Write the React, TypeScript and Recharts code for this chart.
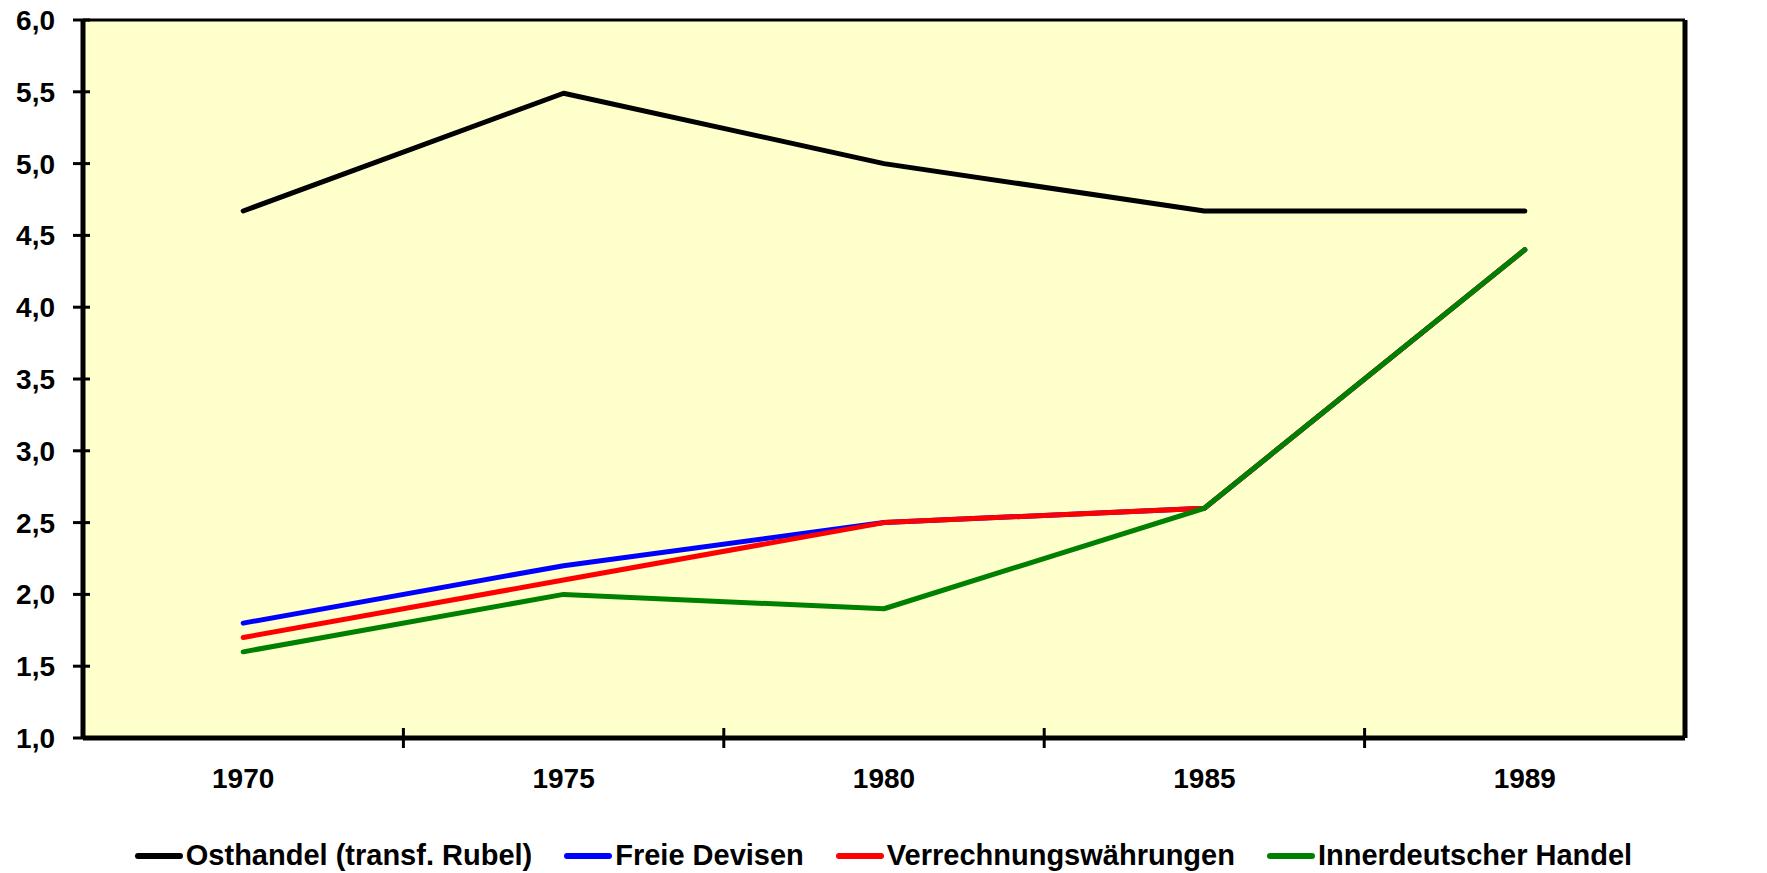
import React from 'react';
import { LineChart, Line, XAxis, YAxis, Legend, CartesianGrid, ReferenceLine } from 'recharts';

const years = ['1970', '1975', '1980', '1985', '1989'];
const osthandel = [4.67, 5.49, 5.0, 4.67, 4.67];
const freieDevisen = [1.8, 2.2, 2.5, 2.6, 4.4];
const verrechnung = [1.7, 2.1, 2.5, 2.6, 4.4];
const innerdeutsch = [1.6, 2.0, 1.9, 2.6, 4.4];
const yTicks = [1.0, 1.5, 2.0, 2.5, 3.0, 3.5, 4.0, 4.5, 5.0, 5.5, 6.0];

const series = [
  { key: 'ost', name: 'Osthandel (transf. Rubel)', color: '#000000' },
  { key: 'frei', name: 'Freie Devisen', color: '#0000FF' },
  { key: 'verr', name: 'Verrechnungswährungen', color: '#FF0000' },
  { key: 'inner', name: 'Innerdeutscher Handel', color: '#008000' },
];

const data = years.map((y, i) => ({
  year: y,
  pos: i + 0.5,
  ost: osthandel[i],
  frei: freieDevisen[i],
  verr: verrechnung[i],
  inner: innerdeutsch[i],
}));

// x ticks: integers = category boundaries (tick marks), halves = category labels
const xTicks: number[] = [];
for (let i = 1; i < years.length; i++) xTicks.push(i);
for (let i = 0; i < years.length; i++) xTicks.push(i + 0.5);
xTicks.sort((a, b) => a - b);

const FONT = '"Liberation Sans", Arial, sans-serif';
const fmt = (v: number) => v.toFixed(1).replace('.', ',');

const XTick = (props: any) => {
  const { x, y, payload } = props;
  const v = payload.value;
  if (Number.isInteger(v)) {
    return <line x1={x} x2={x} y1={y - 10} y2={y + 10} stroke="#000" strokeWidth={3} />;
  }
  const idx = Math.floor(v);
  return (
    <text x={x} y={y + 50} textAnchor="middle" fontFamily={FONT} fontWeight="bold" fontSize={28} fill="#000">
      {years[idx]}
    </text>
  );
};

const YTickLeft = (props: any) => {
  const { x, y, payload } = props;
  return (
    <g>
      <line x1={x - 10} x2={x + 7} y1={y} y2={y} stroke="#000" strokeWidth={3} />
      <text x={x - 28} y={y + 10} textAnchor="end" fontFamily={FONT} fontWeight="bold" fontSize={28} fill="#000">
        {fmt(payload.value)}
      </text>
    </g>
  );
};

const YTickRight = (props: any) => {
  const { x, y, payload } = props;
  return (
    <g>
      <line x1={x - 7} x2={x + 10} y1={y} y2={y} stroke="#000" strokeWidth={3} />
      <text x={x + 28} y={y + 10} textAnchor="start" fontFamily={FONT} fontWeight="bold" fontSize={28} fill="#000">
        {fmt(payload.value)}
      </text>
    </g>
  );
};

const LegendContent = () => (
  <div
    style={{
      height: 35,
      display: 'flex',
      justifyContent: 'center',
      alignItems: 'center',
      fontFamily: FONT,
      fontWeight: 'bold',
      fontSize: 29,
      color: '#000',
      gap: 32,
      whiteSpace: 'nowrap',
    }}
  >
    {series.map((s) => (
      <div key={s.key} style={{ display: 'flex', alignItems: 'center' }}>
        <span
          style={{
            display: 'inline-block',
            width: 48,
            height: 6,
            borderRadius: 3,
            background: s.color,
            marginRight: 3,
          }}
        />
        <span>{s.name}</span>
      </div>
    ))}
  </div>
);

export default function App() {
  return (
    <div style={{ position: 'absolute', left: 0, top: 0, width: 1767, height: 873, background: '#fff' }}>
      <LineChart width={1767} height={873} data={data} margin={{ top: 20, right: 0, bottom: 0, left: 0 }}>
        <CartesianGrid xAxisId="x" yAxisId="left" fill="#FFFFCC" horizontal={false} vertical={false} />
        <XAxis
          xAxisId="x"
          dataKey="pos"
          type="number"
          domain={[0, years.length]}
          ticks={xTicks}
          interval={0}
          tickSize={0}
          tickMargin={0}
          tickLine={false}
          axisLine={{ stroke: '#000', strokeWidth: 5 }}
          tick={<XTick />}
          height={100}
        />
        <YAxis
          yAxisId="left"
          orientation="left"
          type="number"
          domain={[1, 6]}
          ticks={yTicks}
          interval={0}
          width={83}
          tickSize={0}
          tickMargin={0}
          tickLine={false}
          axisLine={{ stroke: '#000', strokeWidth: 5 }}
          tick={<YTickLeft />}
        />
        <YAxis
          yAxisId="right"
          orientation="right"
          type="number"
          domain={[1, 6]}
          ticks={yTicks}
          interval={0}
          width={82}
          tickSize={0}
          tickMargin={0}
          tickLine={false}
          axisLine={{ stroke: '#000', strokeWidth: 5 }}
          tick={<YTickRight />}
        />
        <ReferenceLine xAxisId="x" yAxisId="left" y={6} stroke="#000" strokeWidth={3} />
        {series.map((s) => (
          <Line
            key={s.key}
            xAxisId="x"
            yAxisId="left"
            type="linear"
            dataKey={s.key}
            name={s.name}
            stroke={s.color}
            strokeWidth={5}
            strokeLinecap="round"
            strokeLinejoin="round"
            dot={false}
            activeDot={false}
            isAnimationActive={false}
          />
        ))}
        <Legend verticalAlign="bottom" content={<LegendContent />} />
      </LineChart>
    </div>
  );
}
